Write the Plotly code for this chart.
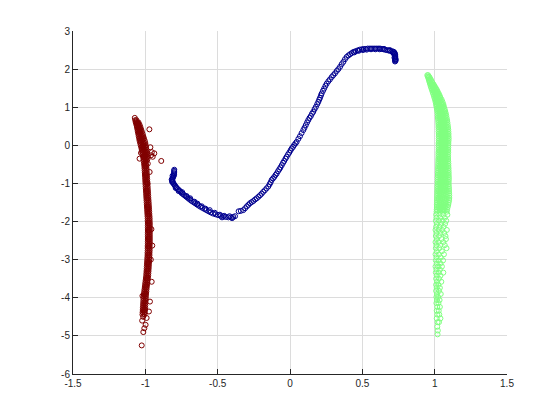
import plotly.graph_objects as go

# tick positions and labels (plain hyphen minus, as in the original)
x_ticks = [-1.5, -1, -0.5, 0, 0.5, 1, 1.5]
x_tick_labels = ["-1.5", "-1", "-0.5", "0", "0.5", "1", "1.5"]
y_ticks = [-6, -5, -4, -3, -2, -1, 0, 1, 2, 3]
y_tick_labels = ["-6", "-5", "-4", "-3", "-2", "-1", "0", "1", "2", "3"]

# cluster 1 (dark red) as (x, y)
red_points = [
    (-1.073, 0.72),
    (-1.070, 0.66), (-1.061, 0.66),
    (-1.066, 0.60), (-1.055, 0.60), (-1.047, 0.60),
    (-1.062, 0.54), (-1.050, 0.54), (-1.040, 0.54),
    (-1.058, 0.48), (-1.046, 0.48), (-1.034, 0.48),
    (-1.055, 0.42), (-1.042, 0.42), (-1.029, 0.42),
    (-1.052, 0.36), (-1.038, 0.36), (-1.024, 0.36),
    (-1.049, 0.30), (-1.034, 0.30), (-1.019, 0.30),
    (-1.046, 0.24), (-1.030, 0.24), (-1.014, 0.24),
    (-1.043, 0.18), (-1.026, 0.18), (-1.009, 0.18),
    (-1.040, 0.12), (-1.022, 0.12), (-1.004, 0.12),
    (-1.036, 0.06), (-1.018, 0.06), (-1.000, 0.06),
    (-1.032, 0.00), (-1.015, 0.00), (-0.997, 0.00),
    (-1.028, -0.06), (-1.012, -0.06), (-0.995, -0.06),
    (-1.025, -0.12), (-1.009, -0.12), (-0.992, -0.12),
    (-1.022, -0.18), (-1.006, -0.18), (-0.990, -0.18),
    (-1.019, -0.24), (-1.003, -0.24), (-0.988, -0.24),
    (-1.016, -0.30), (-1.001, -0.30), (-0.986, -0.30),
    (-1.013, -0.36), (-0.999, -0.36), (-0.985, -0.36),
    (-1.011, -0.42), (-0.997, -0.42),
    (-1.009, -0.48), (-0.995, -0.48), (-0.983, -0.48),
    (-1.007, -0.54), (-0.993, -0.54),
    (-1.006, -0.60), (-0.992, -0.60),
    (-1.005, -0.66), (-0.991, -0.66),
    (-1.004, -0.72), (-0.990, -0.72),
    (-1.003, -0.78), (-0.989, -0.78),
    (-1.002, -0.84), (-0.988, -0.84),
    (-1.001, -0.90), (-0.987, -0.90),
    (-1.000, -0.96), (-0.986, -0.96),
    (-0.999, -1.02), (-0.985, -1.02),
    (-0.998, -1.08), (-0.984, -1.08),
    (-0.997, -1.14), (-0.983, -1.14),
    (-0.996, -1.20), (-0.982, -1.20),
    (-0.995, -1.26), (-0.981, -1.26),
    (-0.994, -1.32), (-0.980, -1.32),
    (-0.993, -1.38), (-0.979, -1.38),
    (-0.992, -1.44), (-0.978, -1.44),
    (-0.991, -1.50), (-0.977, -1.50),
    (-0.990, -1.56), (-0.976, -1.56),
    (-0.989, -1.62), (-0.975, -1.62),
    (-0.988, -1.68), (-0.974, -1.68),
    (-0.987, -1.74), (-0.973, -1.74),
    (-0.986, -1.80), (-0.972, -1.80),
    (-0.985, -1.86), (-0.971, -1.86),
    (-0.984, -1.92), (-0.970, -1.92),
    (-0.984, -1.98), (-0.970, -1.98),
    (-0.983, -2.04), (-0.969, -2.04),
    (-0.983, -2.10), (-0.969, -2.10),
    (-0.983, -2.16), (-0.969, -2.16),
    (-0.983, -2.22), (-0.969, -2.22),
    (-0.983, -2.28), (-0.969, -2.28),
    (-0.983, -2.34), (-0.969, -2.34),
    (-0.983, -2.40), (-0.969, -2.40),
    (-0.983, -2.46), (-0.969, -2.46),
    (-0.983, -2.52), (-0.969, -2.52),
    (-0.983, -2.58), (-0.969, -2.58),
    (-0.984, -2.64), (-0.970, -2.64),
    (-0.984, -2.70), (-0.970, -2.70),
    (-0.984, -2.76), (-0.970, -2.76),
    (-0.985, -2.82), (-0.971, -2.82),
    (-0.985, -2.88), (-0.971, -2.88),
    (-0.986, -2.94), (-0.972, -2.94),
    (-0.987, -3.00), (-0.973, -3.00),
    (-0.988, -3.06), (-0.974, -3.06),
    (-0.989, -3.12), (-0.975, -3.12),
    (-0.990, -3.18), (-0.976, -3.18),
    (-0.991, -3.24), (-0.977, -3.24),
    (-0.992, -3.30), (-0.978, -3.30),
    (-0.993, -3.36), (-0.979, -3.36),
    (-0.994, -3.42), (-0.980, -3.42),
    (-0.996, -3.48), (-0.982, -3.48),
    (-0.998, -3.54), (-0.984, -3.54),
    (-1.000, -3.60), (-0.986, -3.60),
    (-1.002, -3.66), (-0.988, -3.66),
    (-1.004, -3.72), (-0.990, -3.72),
    (-1.006, -3.78), (-0.992, -3.78),
    (-1.008, -3.84), (-0.993, -3.84),
    (-1.010, -3.90), (-0.995, -3.90),
    (-1.011, -3.96), (-0.996, -3.96),
    (-1.013, -4.02), (-0.997, -4.02),
    (-1.014, -4.08), (-0.998, -4.08),
    (-1.015, -4.14), (-0.999, -4.14),
    (-1.016, -4.20), (-1.000, -4.20),
    (-1.017, -4.26), (-1.001, -4.26),
    (-1.018, -4.32), (-1.002, -4.32),
    (-1.019, -4.38), (-1.004, -4.38),
    (-1.020, -4.44), (-1.006, -4.44),
    (-1.015, -4.50),
    # in-between rows, where the band is solid
    (-1.065, 0.63), (-1.060, 0.57), (-1.051, 0.57), (-1.056, 0.51),
    (-1.045, 0.51), (-1.052, 0.45), (-1.040, 0.45), (-1.048, 0.39),
    (-1.035, 0.39), (-1.045, 0.33), (-1.031, 0.33), (-1.041, 0.27),
    (-1.026, 0.27), (-1.038, 0.21), (-1.022, 0.21), (-1.034, 0.15),
    (-1.017, 0.15), (-1.031, 0.09), (-1.013, 0.09), (-1.027, 0.03),
    (-1.009, 0.03), (-1.023, -0.03), (-1.006, -0.03), (-1.020, -0.09),
    (-1.003, -0.09), (-1.017, -0.15), (-1.000, -0.15), (-1.014, -0.21),
    (-0.998, -0.21), (-1.011, -0.27), (-0.995, -0.27), (-1.008, -0.33),
    (-0.993, -0.33), (-1.006, -0.39), (-0.992, -0.39),
    (-1.004, -0.45), (-1.002, -0.51), (-1.000, -0.57), (-0.999, -0.63),
    (-0.998, -0.69), (-0.997, -0.75), (-0.996, -0.81), (-0.995, -0.87),
    (-0.994, -0.93), (-0.993, -0.99), (-0.992, -1.05), (-0.991, -1.11),
    (-0.990, -1.17), (-0.989, -1.23), (-0.988, -1.29), (-0.987, -1.35),
    (-0.986, -1.41), (-0.985, -1.47), (-0.984, -1.53), (-0.983, -1.59),
    (-0.982, -1.65), (-0.981, -1.71), (-0.980, -1.77), (-0.979, -1.83),
    (-0.978, -1.89), (-0.977, -1.95), (-0.977, -2.01), (-0.976, -2.07),
    (-0.976, -2.13), (-0.976, -2.19), (-0.976, -2.25), (-0.976, -2.31),
    (-0.976, -2.37), (-0.976, -2.43), (-0.976, -2.49), (-0.976, -2.55),
    (-0.976, -2.61), (-0.977, -2.67), (-0.977, -2.73), (-0.977, -2.79),
    (-0.978, -2.85), (-0.978, -2.91), (-0.979, -2.97), (-0.980, -3.03),
    (-0.981, -3.09), (-0.982, -3.15), (-0.983, -3.21), (-0.984, -3.27),
    (-0.985, -3.33), (-0.986, -3.39), (-0.987, -3.45), (-0.989, -3.51),
    (-0.991, -3.57), (-0.993, -3.63), (-0.995, -3.69), (-0.997, -3.75),
    (-0.999, -3.81), (-1.001, -3.87), (-1.003, -3.93), (-1.004, -3.99),
    (-1.005, -4.05), (-1.006, -4.11), (-1.007, -4.17), (-1.008, -4.23),
    (-1.009, -4.29), (-1.010, -4.35), (-1.012, -4.41),
    # stray points
    (-0.972, 0.42), (-0.955, -0.18), (-0.949, -0.30), (-0.938, -0.21),
    (-0.960, -0.26), (-0.890, -0.41), (-0.965, -0.05), (-1.040, -0.35),
    (-1.030, -0.20), (-0.952, -2.63), (-0.958, -2.20), (-0.956, -3.58),
    (-0.962, -3.00), (-0.968, -4.10), (-0.975, -4.36), (-0.991, -4.53),
    (-0.998, -4.71), (-1.007, -4.80), (-1.014, -4.90), (-1.025, -5.25),
    (-1.022, -4.60), (-1.020, -3.95), (-0.985, -1.00), (-0.970, -0.70),
]

# cluster 2 (dark blue), the curve
blue_points = [
    (-0.800, -0.64), (-0.801, -0.67), (-0.800, -0.70), (-0.802, -0.73),
    (-0.801, -0.76), (-0.803, -0.79), (-0.806, -0.82), (-0.810, -0.85),
    (-0.813, -0.88), (-0.814, -0.91), (-0.812, -0.94), (-0.810, -0.97),
    (-0.806, -1.00), (-0.800, -1.03), (-0.795, -1.06), (-0.789, -1.09),
    (-0.783, -1.12), (-0.775, -1.15), (-0.766, -1.18), (-0.758, -1.21),
    (-0.750, -1.25), (-0.740, -1.28), (-0.730, -1.31), (-0.720, -1.34),
    (-0.710, -1.37), (-0.700, -1.40), (-0.690, -1.43), (-0.680, -1.46),
    (-0.668, -1.49), (-0.656, -1.52), (-0.644, -1.55), (-0.632, -1.58),
    (-0.620, -1.61), (-0.606, -1.64), (-0.592, -1.67), (-0.578, -1.70),
    (-0.563, -1.73), (-0.548, -1.76), (-0.532, -1.79), (-0.515, -1.81),
    (-0.498, -1.83), (-0.480, -1.85), (-0.462, -1.87), (-0.444, -1.88),
    (-0.426, -1.89), (-0.408, -1.89), (-0.392, -1.88), (-0.380, -1.86),
    (-0.812, -0.80), (-0.818, -0.90), (-0.815, -0.96), (-0.790, -1.12),
    (-0.770, -1.20), (-0.745, -1.23), (-0.715, -1.33), (-0.690, -1.39),
    (-0.660, -1.48), (-0.640, -1.53), (-0.610, -1.60), (-0.585, -1.66),
    (-0.555, -1.70), (-0.520, -1.77), (-0.485, -1.82), (-0.455, -1.85),
    (-0.418, -1.86), (-0.400, -1.91), (-0.470, -1.89),
    (-0.355, -1.73), (-0.340, -1.72), (-0.323, -1.70), (-0.310, -1.65),
    (-0.298, -1.60), (-0.287, -1.56), (-0.277, -1.52), (-0.265, -1.49),
    (-0.253, -1.46), (-0.241, -1.42), (-0.230, -1.39), (-0.218, -1.35),
    (-0.207, -1.31), (-0.196, -1.27), (-0.185, -1.22), (-0.174, -1.18),
    (-0.162, -1.13), (-0.150, -1.08), (-0.141, -1.02), (-0.134, -0.97),
    (-0.127, -0.91), (-0.118, -0.87), (-0.109, -0.83), (-0.100, -0.78),
    (-0.092, -0.74), (-0.083, -0.68), (-0.074, -0.63), (-0.066, -0.58),
    (-0.057, -0.52), (-0.048, -0.46), (-0.040, -0.41), (-0.031, -0.35),
    (-0.023, -0.30), (-0.014, -0.24), (-0.005, -0.19), (0.004, -0.13),
    (0.012, -0.08), (0.021, -0.04), (0.029, 0.01), (0.038, 0.05),
    (0.046, 0.09), (0.058, 0.17), (0.069, 0.24), (0.080, 0.32),
    (0.092, 0.40), (0.100, 0.46), (0.109, 0.53), (0.118, 0.60),
    (0.126, 0.66), (0.135, 0.72), (0.144, 0.77), (0.152, 0.83),
    (0.161, 0.88), (0.170, 0.95), (0.179, 1.01), (0.188, 1.08),
    (0.196, 1.14), (0.202, 1.20), (0.208, 1.25), (0.214, 1.31),
    (0.219, 1.36), (0.228, 1.43), (0.236, 1.49), (0.245, 1.56),
    (0.254, 1.62), (0.265, 1.68), (0.276, 1.73), (0.288, 1.79),
    (0.299, 1.84), (0.311, 1.89), (0.323, 1.95), (0.334, 2.00),
    (0.346, 2.06), (0.357, 2.13), (0.369, 2.19), (0.380, 2.26),
    (0.392, 2.32), (0.404, 2.36), (0.415, 2.39), (0.427, 2.42),
    (0.438, 2.45), (0.453, 2.47), (0.467, 2.49), (0.482, 2.51),
    (0.496, 2.52), (0.510, 2.53), (0.524, 2.53), (0.538, 2.54),
    (0.553, 2.54), (0.567, 2.54), (0.581, 2.54), (0.595, 2.54),
    (0.609, 2.54), (0.622, 2.54), (0.634, 2.53), (0.645, 2.52),
    (0.657, 2.51), (0.668, 2.50), (0.680, 2.49), (0.691, 2.48),
    (0.703, 2.47), (0.714, 2.46), (0.721, 2.44), (0.725, 2.41),
    (0.727, 2.38), (0.727, 2.35), (0.728, 2.32), (0.727, 2.29),
    (0.727, 2.26), (0.726, 2.23), (0.726, 2.20),
    (0.445, 2.44), (0.475, 2.48), (0.505, 2.50), (0.530, 2.51),
    (0.560, 2.52), (0.590, 2.52), (0.620, 2.52), (0.650, 2.53),
    (0.690, 2.50), (0.710, 2.44), (0.718, 2.40), (0.722, 2.30),
    (0.731, 2.26), (0.730, 2.22),
]

# cluster 3 (light green), the right-hand band
green_points = [
    (0.949, 1.84), (0.955, 1.84),
    (0.953, 1.80), (0.962, 1.80),
    (0.957, 1.76), (0.968, 1.76),
    (0.960, 1.72), (0.974, 1.72),
    (0.963, 1.68), (0.979, 1.68),
    (0.966, 1.64), (0.985, 1.64),
    (0.969, 1.60), (0.982, 1.60), (0.992, 1.60),
    (0.973, 1.55), (0.988, 1.55), (1.000, 1.55),
    (0.977, 1.50), (0.992, 1.50), (1.008, 1.50),
    (0.982, 1.45), (0.998, 1.45), (1.016, 1.45),
    (0.986, 1.40), (1.003, 1.40), (1.022, 1.40),
    (0.990, 1.35), (1.008, 1.35), (1.029, 1.35),
    (0.995, 1.30), (1.014, 1.30), (1.035, 1.30),
    (0.998, 1.25), (1.018, 1.25), (1.040, 1.25),
    (1.002, 1.20), (1.018, 1.20), (1.033, 1.20), (1.048, 1.20),
    (1.006, 1.14), (1.022, 1.14), (1.038, 1.14), (1.054, 1.14),
    (1.009, 1.08), (1.026, 1.08), (1.043, 1.08), (1.060, 1.08),
    (1.012, 1.02), (1.029, 1.02), (1.046, 1.02), (1.064, 1.02),
    (1.015, 0.96), (1.032, 0.96), (1.050, 0.96), (1.068, 0.96),
    (1.018, 0.90), (1.036, 0.90), (1.054, 0.90), (1.073, 0.90),
    (1.020, 0.84), (1.038, 0.84), (1.057, 0.84), (1.077, 0.84),
    (1.021, 0.78), (1.040, 0.78), (1.060, 0.78), (1.080, 0.78),
    (1.022, 0.72), (1.042, 0.72), (1.062, 0.72), (1.083, 0.72),
    (1.024, 0.66), (1.044, 0.66), (1.064, 0.66), (1.086, 0.66),
    (1.025, 0.60), (1.045, 0.60), (1.066, 0.60), (1.088, 0.60),
    (1.026, 0.54), (1.046, 0.54), (1.068, 0.54), (1.090, 0.54),
    (1.026, 0.48), (1.047, 0.48), (1.069, 0.48), (1.092, 0.48),
    (1.027, 0.42), (1.048, 0.42), (1.070, 0.42), (1.094, 0.42),
    (1.027, 0.36), (1.049, 0.36), (1.071, 0.36), (1.095, 0.36),
    (1.028, 0.30), (1.050, 0.30), (1.072, 0.30), (1.096, 0.30),
    (1.028, 0.24), (1.050, 0.24), (1.072, 0.24), (1.096, 0.24),
    (1.028, 0.18), (1.050, 0.18), (1.073, 0.18), (1.097, 0.18),
    (1.028, 0.12), (1.050, 0.12), (1.073, 0.12), (1.096, 0.12),
    (1.027, 0.06), (1.050, 0.06), (1.072, 0.06), (1.095, 0.06),
    (1.027, 0.00), (1.049, 0.00), (1.072, 0.00), (1.095, 0.00),
    (1.027, -0.06), (1.049, -0.06), (1.071, -0.06), (1.094, -0.06),
    (1.027, -0.12), (1.049, -0.12), (1.071, -0.12), (1.094, -0.12),
    (1.026, -0.18), (1.048, -0.18), (1.071, -0.18), (1.094, -0.18),
    (1.026, -0.24), (1.048, -0.24), (1.070, -0.24), (1.093, -0.24),
    (1.026, -0.30), (1.048, -0.30), (1.070, -0.30), (1.093, -0.30),
    (1.025, -0.36), (1.047, -0.36), (1.070, -0.36), (1.093, -0.36),
    (1.025, -0.42), (1.047, -0.42), (1.070, -0.42), (1.094, -0.42),
    (1.024, -0.48), (1.047, -0.48), (1.070, -0.48), (1.095, -0.48),
    (1.024, -0.54), (1.046, -0.54), (1.070, -0.54), (1.095, -0.54),
    (1.023, -0.60), (1.046, -0.60), (1.070, -0.60), (1.096, -0.60),
    (1.023, -0.66), (1.046, -0.66), (1.070, -0.66), (1.096, -0.66),
    (1.022, -0.72), (1.045, -0.72), (1.070, -0.72), (1.097, -0.72),
    (1.022, -0.78), (1.045, -0.78), (1.070, -0.78), (1.097, -0.78),
    (1.021, -0.84), (1.045, -0.84), (1.070, -0.84), (1.098, -0.84),
    (1.021, -0.90), (1.044, -0.90), (1.070, -0.90), (1.098, -0.90),
    (1.020, -0.96), (1.044, -0.96), (1.070, -0.96), (1.097, -0.96),
    (1.020, -1.02), (1.044, -1.02), (1.069, -1.02), (1.097, -1.02),
    (1.019, -1.08), (1.043, -1.08), (1.069, -1.08), (1.098, -1.08),
    (1.019, -1.14), (1.043, -1.14), (1.069, -1.14), (1.099, -1.14),
    (1.018, -1.20), (1.043, -1.20), (1.069, -1.20), (1.099, -1.20),
    (1.018, -1.26), (1.042, -1.26), (1.068, -1.26), (1.100, -1.26),
    (1.017, -1.32), (1.042, -1.32), (1.068, -1.32), (1.101, -1.32),
    (1.017, -1.38), (1.042, -1.38), (1.068, -1.38), (1.101, -1.38),
    (1.016, -1.44), (1.041, -1.44), (1.067, -1.44), (1.100, -1.44),
    (1.016, -1.50), (1.041, -1.50), (1.066, -1.50), (1.097, -1.50),
    (1.015, -1.56), (1.040, -1.56), (1.065, -1.56), (1.094, -1.56),
    (1.015, -1.62), (1.039, -1.62), (1.063, -1.62), (1.090, -1.62),
    (1.014, -1.68), (1.038, -1.68), (1.061, -1.68), (1.086, -1.68),
    (1.013, -1.74), (1.036, -1.74), (1.058, -1.74), (1.084, -1.74),
    # in-between rows, where the band is solid
    (0.959, 1.78), (0.968, 1.70), (0.976, 1.62),
    (0.980, 1.575), (0.994, 1.575), (0.985, 1.525), (1.000, 1.525),
    (0.990, 1.475), (1.007, 1.475), (0.994, 1.425), (1.012, 1.425),
    (0.999, 1.375), (1.018, 1.375), (1.004, 1.325), (1.024, 1.325),
    (1.008, 1.275), (1.028, 1.275), (1.010, 1.225), (1.030, 1.225),
    (1.010, 1.17), (1.026, 1.17), (1.041, 1.17),
    (1.014, 1.11), (1.030, 1.11), (1.046, 1.11),
    (1.018, 1.05), (1.035, 1.05), (1.053, 1.05),
    (1.022, 0.99), (1.040, 0.99), (1.058, 0.99),
    (1.025, 0.93), (1.043, 0.93), (1.062, 0.93),
    (1.028, 0.87), (1.047, 0.87), (1.066, 0.87),
    (1.030, 0.81), (1.049, 0.81), (1.069, 0.81),
    (1.032, 0.75), (1.051, 0.75), (1.072, 0.75),
    (1.034, 0.69), (1.053, 0.69), (1.074, 0.69),
    (1.035, 0.63), (1.055, 0.63), (1.076, 0.63),
    (1.036, 0.57), (1.056, 0.57), (1.078, 0.57),
    (1.037, 0.51), (1.058, 0.51), (1.080, 0.51),
    (1.038, 0.45), (1.059, 0.45), (1.082, 0.45),
    (1.038, 0.39), (1.060, 0.39), (1.083, 0.39),
    (1.039, 0.33), (1.061, 0.33), (1.084, 0.33),
    (1.039, 0.27), (1.061, 0.27), (1.084, 0.27),
    (1.039, 0.21), (1.061, 0.21), (1.085, 0.21),
    (1.039, 0.15), (1.062, 0.15), (1.085, 0.15),
    (1.039, 0.09), (1.061, 0.09), (1.084, 0.09),
    (1.038, 0.03), (1.061, 0.03), (1.084, 0.03),
    (1.038, -0.03), (1.060, -0.03), (1.083, -0.03),
    (1.038, -0.09), (1.060, -0.09), (1.083, -0.09),
    (1.037, -0.15), (1.060, -0.15), (1.083, -0.15),
    (1.037, -0.21), (1.059, -0.21), (1.082, -0.21),
    (1.037, -0.27), (1.059, -0.27), (1.082, -0.27),
    (1.036, -0.33), (1.059, -0.33), (1.082, -0.33),
    (1.036, -0.39), (1.058, -0.39), (1.082, -0.39),
    (1.036, -0.45), (1.058, -0.45), (1.082, -0.45),
    (1.035, -0.51), (1.058, -0.51), (1.083, -0.51),
    (1.035, -0.57), (1.058, -0.57), (1.083, -0.57),
    (1.034, -0.63), (1.058, -0.63), (1.083, -0.63),
    (1.034, -0.69), (1.058, -0.69), (1.084, -0.69),
    (1.033, -0.75), (1.057, -0.75), (1.084, -0.75),
    (1.033, -0.81), (1.057, -0.81), (1.084, -0.81),
    (1.033, -0.87), (1.057, -0.87), (1.084, -0.87),
    (1.032, -0.93), (1.057, -0.93), (1.084, -0.93),
    (1.032, -0.99), (1.056, -0.99), (1.083, -0.99),
    (1.031, -1.05), (1.056, -1.05), (1.083, -1.05),
    (1.031, -1.11), (1.056, -1.11), (1.084, -1.11),
    (1.030, -1.17), (1.056, -1.17), (1.084, -1.17),
    (1.030, -1.23), (1.055, -1.23), (1.084, -1.23),
    (1.029, -1.29), (1.055, -1.29), (1.084, -1.29),
    (1.029, -1.35), (1.055, -1.35), (1.085, -1.35),
    (1.028, -1.41), (1.054, -1.41), (1.084, -1.41),
    (1.028, -1.47), (1.053, -1.47), (1.082, -1.47),
    (1.027, -1.53), (1.052, -1.53), (1.080, -1.53),
    (1.027, -1.59), (1.051, -1.59), (1.077, -1.59),
    (1.026, -1.65), (1.050, -1.65), (1.074, -1.65),
    (1.025, -1.71), (1.047, -1.71), (1.071, -1.71),
    # sparser lower part
    (1.010, -1.82), (1.032, -1.82), (1.060, -1.82), (1.088, -1.82),
    (1.012, -1.90), (1.040, -1.90), (1.070, -1.90),
    (1.008, -1.98), (1.030, -1.98), (1.055, -1.98), (1.080, -1.98),
    (1.014, -2.06), (1.045, -2.06), (1.072, -2.06),
    (1.010, -2.14), (1.034, -2.14), (1.062, -2.14),
    (1.006, -2.22), (1.028, -2.22), (1.052, -2.22), (1.084, -2.22),
    (1.012, -2.30), (1.040, -2.30), (1.066, -2.30),
    (1.008, -2.38), (1.030, -2.38), (1.075, -2.38),
    (1.014, -2.46), (1.048, -2.46), (1.078, -2.46),
    (1.006, -2.54), (1.026, -2.54), (1.060, -2.54),
    (1.012, -2.62), (1.040, -2.62), (1.070, -2.62),
    (1.008, -2.70), (1.032, -2.70), (1.082, -2.70),
    (1.014, -2.78), (1.050, -2.78),
    (1.006, -2.86), (1.030, -2.86), (1.064, -2.86),
    (1.012, -2.94), (1.042, -2.94),
    (1.008, -3.02), (1.028, -3.02), (1.058, -3.02),
    (1.014, -3.10), (1.040, -3.10),
    (1.006, -3.18), (1.024, -3.18), (1.050, -3.18),
    (1.012, -3.26), (1.036, -3.26),
    (1.008, -3.34), (1.028, -3.34), (1.060, -3.34),
    (1.014, -3.42), (1.040, -3.42),
    (1.010, -3.50), (1.030, -3.50),
    (1.016, -3.58), (1.046, -3.58),
    (1.010, -3.66), (1.026, -3.66),
    (1.014, -3.74), (1.036, -3.74),
    (1.010, -3.82), (1.030, -3.82),
    (1.016, -3.90), (1.042, -3.90),
    (1.012, -3.98), (1.024, -3.98),
    (1.016, -4.06), (1.034, -4.06),
    (1.012, -4.14), (1.026, -4.14),
    (1.018, -4.24), (1.036, -4.24),
    (1.014, -4.34), (1.028, -4.34),
    (1.018, -4.44), (1.032, -4.44),
    (1.014, -4.54), (1.040, -4.54),
    (1.020, -4.64), (1.030, -4.64),
    (1.018, -4.76), (1.022, -4.86), (1.020, -4.96),
]

clusters = [
    ("cluster 1", red_points, "#800000"),
    ("cluster 2", blue_points, "#00008f"),
    ("cluster 3", green_points, "#80ff80"),
]

fig = go.Figure()
for name, pts, color in clusters:
    fig.add_trace(go.Scatter(
        x=[p[0] for p in pts],
        y=[p[1] for p in pts],
        mode="markers",
        name=name,
        marker=dict(symbol="circle-open", size=5, color=color, line=dict(width=1)),
        showlegend=False,
    ))

axis_style = dict(
    showgrid=True,
    gridcolor="#dcdcdc",
    gridwidth=1,
    zeroline=False,
    showline=True,
    linecolor="#262626",
    linewidth=1,
    ticks="inside",
    ticklen=5,
    tickcolor="#262626",
    tickfont=dict(family="Liberation Sans, Arial, sans-serif", size=10, color="#262626"),
)

# the page adds an 8px body margin, so the figure is a bit smaller than the window
fig.update_layout(
    width=552,
    height=412,
    margin=dict(l=65, r=53, t=23, b=46),
    paper_bgcolor="white",
    plot_bgcolor="white",
    xaxis=dict(range=[-1.5, 1.5], tickvals=x_ticks, ticktext=x_tick_labels, **axis_style),
    yaxis=dict(range=[-6, 3], tickvals=y_ticks, ticktext=y_tick_labels, **axis_style),
)

fig.write_html("out.html")
